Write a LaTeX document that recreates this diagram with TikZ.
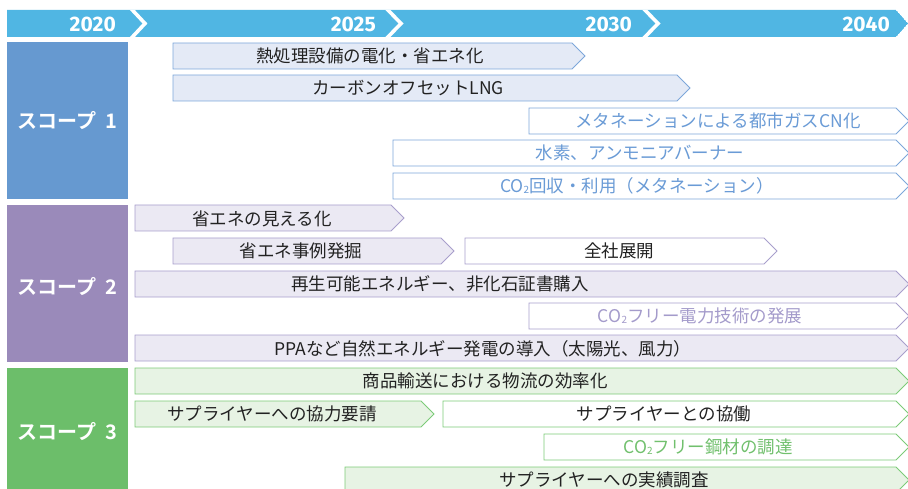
\documentclass[tikz,border=0pt]{standalone}
\usepackage{fontspec}
\setmainfont{Noto Sans CJK JP}[BoldFont={Noto Sans CJK JP Bold}]
\newfontfamily\yearfont{Fira Sans}
\definecolor{hdrblue}{HTML}{50B6E3}
\definecolor{sOne}{HTML}{6699D0}
\definecolor{sTwo}{HTML}{9A8ABA}
\definecolor{sThree}{HTML}{6CBE6A}
\definecolor{fillOne}{HTML}{E4EAF6}
\definecolor{fillTwo}{HTML}{EBE9F3}
\definecolor{fillThree}{HTML}{E7F3E4}
\definecolor{lineOne}{HTML}{7DA7DA}
\definecolor{lineTwo}{HTML}{A89FCC}
\definecolor{lineThree}{HTML}{7CCB78}
\definecolor{txtOne}{HTML}{6A9BD6}
\definecolor{txtTwo}{HTML}{A49BCB}
\definecolor{txtThree}{HTML}{71C06D}
\definecolor{txtDark}{HTML}{222222}
\newcommand\myBar[4]{\pgfmathsetmacro\myMid{#4+13}\pgfmathsetmacro\myBot{#4+26}\pgfmathsetmacro\myTip{#3+13}%
  \draw[#1] (#2,#4) -- (#3,#4) -- (\myTip,\myMid) -- (#3,\myBot) -- (#2,\myBot) -- cycle;}
\newcommand\cotwo{CO\raisebox{-0.5pt}{\fontsize{10}{10}\selectfont 2}}
\begin{document}
\begin{tikzpicture}[x=1pt,y=-1pt,
  yr/.style={text=white,font=\yearfont\bfseries\fontsize{21}{21}\selectfont,anchor=east,inner sep=0},
  scopelbl/.style={text=white,font=\bfseries\fontsize{20}{20}\selectfont,inner sep=0},
  txt/.style={text=txtDark,font=\fontsize{17.5}{17.5}\selectfont,inner sep=0},
  barOneF/.style={fill=fillOne,draw=lineOne,line width=0.9pt},
  barOneW/.style={fill=white,draw=lineOne,line width=0.9pt},
  barTwoF/.style={fill=fillTwo,draw=lineTwo,line width=0.9pt},
  barTwoW/.style={fill=white,draw=lineTwo,line width=0.9pt},
  barThreeF/.style={fill=fillThree,draw=lineThree,line width=0.9pt},
  barThreeW/.style={fill=white,draw=lineThree,line width=0.9pt},
  chev/.style={draw=white,line width=3.6pt}]
\useasboundingbox (0,0) rectangle (908,489);
% header
\begin{scope}
\clip (7,10) -- (896,10) -- (908,23.5) -- (896,37) -- (7,37) -- cycle;
\fill[hdrblue] (7,10) -- (896,10) -- (908,23.5) -- (896,37) -- (7,37) -- cycle;
\draw[chev] (130.5,8) -- (145,23.5) -- (130.5,39);
\draw[chev] (386,8) -- (401,23.5) -- (386,39);
\draw[chev] (643,8) -- (658,23.5) -- (643,39);
\end{scope}
\node[yr] (y1) at (116,24) {2020};
\node[yr] (y2) at (376,24) {2025};
\node[yr] (y3) at (632,24) {2030};
\node[yr] (y4) at (890,24) {2040};
% scope boxes
\fill[sOne] (7,42) rectangle (128,199);
\fill[sTwo] (7,205) rectangle (128,362);
\fill[sThree] (7,368) rectangle (128,492);
\node[scopelbl] (s1) at (67.5,121) {スコープ\hspace{0.45em}1};
\node[scopelbl] (s2) at (67.5,287) {スコープ\hspace{0.45em}2};
\node[scopelbl] (s3) at (67.5,432) {スコープ\hspace{0.45em}3};
% scope 1
\myBar{barOneF}{173}{572}{43}
\node[txt] (a1) at (370,56) {熱処理設備の電化・省エネ化};
\myBar{barOneF}{173}{677}{75}
\node[txt] (a2) at (408,88) {カーボンオフセットLNG};
\myBar{barOneW}{529}{896}{108}
\node[txt,text=txtOne] (a3) at (718,121) {メタネーションによる都市ガスCN化};
\myBar{barOneW}{393}{896}{140}
\node[txt,text=txtOne] (a4) at (640,153) {水素、アンモニアバーナー};
\myBar{barOneW}{393}{896}{173}
\node[txt,text=txtOne] (a5) at (637,186) {\cotwo 回収・利用（メタネーション）};
% scope 2
\myBar{barTwoF}{135}{391}{205}
\node[txt] (b1) at (262,218.5) {省エネの見える化};
\myBar{barTwoF}{173}{441}{238}
\node[txt] (b2) at (301,251) {省エネ事例発掘};
\myBar{barTwoW}{465}{764}{238}
\node[txt] (b3) at (619,251) {全社展開};
\myBar{barTwoF}{135}{896}{271}
\node[txt] (b4) at (440,284) {再生可能エネルギー、非化石証書購入};
\myBar{barTwoW}{529}{896}{303}
\node[txt,text=txtTwo] (b5) at (700,316) {\cotwo フリー電力技術の発展};
\myBar{barTwoF}{135}{896}{335}
\node[txt] (b6) at (483,348.5) {PPAなど自然エネルギー発電の導入（太陽光、風力）};
% scope 3
\myBar{barThreeF}{135}{896}{368}
\node[txt] (c1) at (485,381) {商品輸送における物流の効率化};
\myBar{barThreeF}{135}{421}{401}
\node[txt] (c2) at (272,414) {サプライヤーへの協力要請};
\myBar{barThreeW}{443}{896}{401}
\node[txt] (c3) at (664,414) {サプライヤーとの協働};
\myBar{barThreeW}{544}{896}{434}
\node[txt,text=txtThree] (c4) at (708,447) {\cotwo フリー鋼材の調達};
\myBar{barThreeF}{345}{896}{467}
\node[txt] (c5) at (604,479.5) {サプライヤーへの実績調査};
\end{tikzpicture}
\end{document}
